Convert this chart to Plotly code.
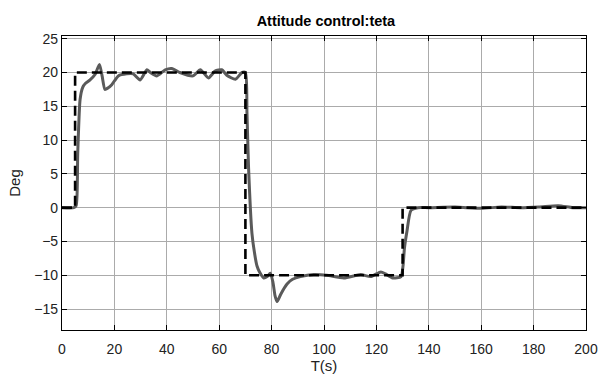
import plotly.graph_objects as go

# Reference (set-point) signal
ref_t = [0, 5, 5, 70, 70, 130, 130, 200]
ref_v = [0, 0, 20, 20, -10, -10, 0, 0]

# Actual response
act_t = [0, 4.5, 5.4, 6.0, 6.9, 7.9, 9.0, 10.7, 12.6, 14.3, 15.3, 16.4, 17.5, 19.0, 21.5, 24.7, 27.2,
         29.8, 32.4, 33.7, 36.2, 39.4, 41.9, 45.0, 50.0, 52.8, 55.9, 58.4, 61.0, 62.9, 66.2,
         68.7, 70.0, 70.6, 71.2, 72.5, 73.4, 74.4, 75.5, 77.0, 78.3, 79.5, 80.5, 81.3, 82.1, 83.5,
         85.9, 88.0, 91.0, 96.1, 101.0, 107.6, 114.0, 117.8, 121.7, 123.5, 126.2, 129.4, 130.2,
         130.7, 131.7, 133.2, 135.8, 140.0, 150.0, 160.0, 167.7, 175.0, 182.0, 189.4, 195.0, 200.0]
act_v = [0, 0, 0.3, 8.0, 16.0, 17.8, 18.4, 18.9, 19.7, 21.2, 19.5, 17.5, 17.7, 18.2, 19.5, 19.8, 19.8,
         18.9, 20.4, 20.0, 19.5, 20.4, 20.6, 20.0, 19.5, 20.4, 19.2, 20.2, 20.4, 19.6, 19.0,
         20.0, 20.0, 14.0, 6.0, -3.8, -6.5, -8.6, -9.6, -10.4, -10.2, -9.7, -11.0, -13.0, -13.9, -12.8,
         -11.3, -10.6, -10.2, -9.9, -10.0, -10.4, -9.9, -10.2, -9.5, -9.8, -10.4, -10.2, -8.5,
         -6.0, -3.4, -0.4, 0.0, 0.0, 0.1, -0.1, 0.1, 0.0, 0.1, 0.3, 0.0, 0.0]

x_ticks = [0, 20, 40, 60, 80, 100, 120, 140, 160, 180, 200]
y_ticks = [-15, -10, -5, 0, 5, 10, 15, 20, 25]

FONT = "Liberation Sans, Arial"

fig = go.Figure()
fig.add_trace(go.Scatter(x=act_t, y=act_v, mode="lines",
                         line=dict(color="#5a5a5a", width=3, shape="spline", smoothing=0.6),
                         showlegend=False))
fig.add_trace(go.Scatter(x=ref_t, y=ref_v, mode="lines",
                         line=dict(color="black", width=2.6, dash="10px,5px"),
                         showlegend=False))

axis_common = dict(showgrid=True, gridcolor="#ababab", gridwidth=1,
                   showline=True, linecolor="black", linewidth=1.2, mirror="allticks",
                   ticks="inside", ticklen=5, tickcolor="black", zeroline=False, automargin=False,
                   tickfont=dict(family=FONT, size=14, color="#222"))

fig.update_xaxes(range=[0, 200], tickvals=x_ticks, ticklabelstandoff=6,
                 title=dict(text="T(s)", font=dict(family=FONT, size=15, color="#222"), standoff=4),
                 **axis_common)
fig.update_yaxes(range=[-18.1, 25.4], tickvals=y_ticks,
                 title=dict(text="Deg", font=dict(family=FONT, size=15, color="#222"), standoff=10),
                 **axis_common)

fig.update_layout(
    width=598, height=380,
    margin=dict(l=62, r=12, t=36, b=50),
    paper_bgcolor="white", plot_bgcolor="white",
    title=dict(text="<b>Attitude control:teta</b>", x=0.545, xanchor="center", y=0.945, yanchor="middle",
               font=dict(family=FONT, size=14.5, color="black")),
)

fig.write_html("out.html")
